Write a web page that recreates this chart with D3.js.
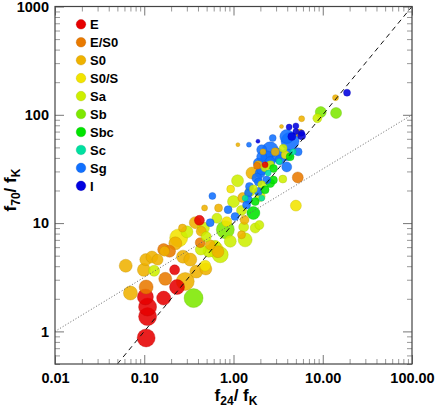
<!DOCTYPE html>
<html lang="en">
<head>
<meta charset="UTF-8">
<script src="https://cdnjs.cloudflare.com/ajax/libs/d3/7.8.5/d3.min.js"></script>
<style>
  body { margin: 0; background: #fff; }
  text { font-family: "Liberation Sans", Arial, sans-serif; font-weight: bold; fill: #000; }
</style>
</head>
<body>
<svg></svg>
<script>
// morphological types and their colours
var types = ["E","E/S0","S0","S0/S","Sa","Sb","Sbc","Sc","Sg","I"];
var typeColors = ["#e60000","#e97a00","#efb200","#f2e400","#cdef00","#7de800","#00e400","#00e0a0","#1070ff","#0000e0"];

// galaxies: f24/fK, f70/fK, symbol size, type index
var f24 = [0.105,0.109,0.109,0.103,0.165,0.233,0.219,0.105,0.172,0.070,
  0.062,0.357,0.099,0.129,0.104,0.122,0.141,0.165,0.169,0.192,
  0.223,0.243,0.272,0.328,0.288,0.383,0.482,0.301,0.268,0.373,
  0.415,0.548,0.474,0.435,0.424,0.43,0.53,0.548,0.495,0.624,
  0.652,1.12,1.49,1.88,0.58,0.93,1.11,1.0,1.27,1.35,
  1.47,1.54,1.61,1.83,1.51,1.99,2.07,1.67,1.04,0.87,
  1.23,1.33,1.30,1.23,1.35,1.95,2.58,3.57,5.25,5.0,
  0.81,0.84,0.62,0.71,0.92,0.49,5.8,8.7,9.5,14.1,
  13.9,18.7,3.45,4.2,5.0,5.5,4.3,4.5,5.8,2.75,
  2.58,3.05,2.93,2.35,2.07,2.14,3.8,4.67,5.3,3.6,
  3.33,2.58,3.25,2.26,1.9,2.26,2.8,1.9,1.47,3.95,
  3.96,5.0,5.8,3.96,1.9,2.58,2.8,2.07,1.83,2.35,
  2.07,2.45,4.31,1.9,2.26,1.99,1.75,1.4,0.68,0.46,
  1.75,0.67,2.07,1.67];
var f70 = [0.87,1.37,1.68,2.08,2.03,2.57,3.7,2.57,3.06,2.26,
  4.04,2.03,3.7,3.63,4.6,4.86,4.6,5.7,5.5,5.5,
  6.5,7.3,4.9,4.6,2.89,3.57,4.04,8.3,9.0,10.1,
  10.6,10.1,13.8,8.4,6.6,5.7,5.5,6.3,7.5,5.7,
  11.1,53,53,57,17.8,20.6,24.6,15.8,17.2,17.0,
  19.0,19.6,29,33.8,21.8,29,17.0,12.4,11.5,13.3,
  13.1,10.7,9.2,7.8,7.0,9.6,23.4,25.5,26.4,14.5,
  8.7,10.3,6.1,5.1,6.8,3.77,92,93,106,104,
  144,160,78,77,79,68,57,63,64,61,
  47.5,42.7,45.5,41,47.5,45.5,42.7,45.5,45.5,49,
  38.4,37,37,34.5,34.5,32.4,25,24,16.4,33,
  63,70,68,42.7,35.8,34.5,32,31,26,25,
  22.6,29,41,19.6,20.3,17.6,15.8,14.7,13.8,9.0,
  9.0,5.45,41,20.7];
var size = [9,9,9,8,7,7.5,5,7,6.5,7,
  6.5,9.5,6.5,5.5,6,6,5.5,6,5,6,
  6.5,9,6.5,6.5,9,6.5,5.5,6,4,6,
  5,4,3,5,5,5.5,6,5,5,8,
  5,2,2.5,2,3.5,4,6,6,5,3,
  4,5,6,3.5,4,5,3,6.5,4,4,
  5,4.5,5,4,7,4.5,4.5,4,5.5,5.5,
  9,5,6,8,6,6,3,4.5,5.5,5.5,
  3,3.5,2,3,3,4,9,4,4,3.5,
  8,7,4,6,5,3,4,3,4,4,
  5,5,3,3,4,4,4,4,4,5,
  7,3,3,6,5,4,4,5,5,4,
  4,3,4,4,4,5,4,4,4,6,
  5,6,5,4];
var type = [0,0,0,0,0,0,0,1,1,2,
  2,5,2,4,2,2,2,1,2,1,
  2,3,2,2,2,2,3,4,2,2,
  0,8,2,2,1,4,4,2,4,3,
  4,2,8,9,8,3,4,4,2,7,
  8,4,2,1,8,8,7,6,8,8,
  4,2,4,2,4,4,6,4,1,3,
  5,3,4,4,4,2,2,4,5,5,
  2,9,2,9,9,2,8,9,9,8,
  8,8,2,8,8,2,3,7,8,4,
  8,8,7,0,2,4,6,8,8,8,
  8,9,9,8,8,4,6,8,8,8,
  4,7,6,8,6,4,6,8,2,4,
  4,2,8,4];

var xTicks = [0.01,0.1,1,10,100];
var xTickLabels = ["0.01","0.10","1.00","10.00","100.00"];
var yTicks = [1,10,100,1000];
var yTickLabels = ["1","10","100","1000"];

// reference lines: f70 = 10 f24 (dashed), f70 = 10 sqrt(f24) (dotted)
var dashX = [0.05,100], dashY = [0.5,1000];
var dotX = [0.01,100], dotY = [1,100];

var margin = {top: 6.5, right: 24, bottom: 46, left: 55},
    width = 436 - margin.left - margin.right,
    height = 410 - margin.top - margin.bottom;

var svg = d3.select("svg").attr("width", 436).attr("height", 410);
var g = svg.append("g").attr("transform", "translate(" + margin.left + "," + margin.top + ")");

var x = d3.scaleLog().domain([0.01,100]).range([0,width]);
var y = d3.scaleLog().domain([0.5,1000]).range([height,0]);
var r = d3.scaleLinear().domain([0,10]).range([0,10]);
var color = d3.scaleOrdinal().domain(d3.range(types.length)).range(typeColors);

var data = f24.map(function(d,i){ return {x: d, y: f70[i], s: size[i], t: type[i]}; });
data.sort(function(a,b){ return b.s - a.s; });

g.selectAll("circle.pt")
  .data(data)
  .enter().append("circle")
  .attr("class","pt")
  .attr("cx", function(d){ return x(d.x); })
  .attr("cy", function(d){ return y(d.y); })
  .attr("r", function(d){ return r(d.s); })
  .attr("fill", function(d){ return color(d.t); })
  .attr("fill-opacity", 0.88)
  .attr("stroke", function(d){ return d3.color(color(d.t)).darker(0.6); })
  .attr("stroke-opacity", 0.5)
  .attr("stroke-width", 0.7);

var line = d3.line().x(function(d){ return x(d[0]); }).y(function(d){ return y(d[1]); });
g.append("path").datum(d3.zip(dashX, dashY)).attr("d", line)
  .attr("fill","none").attr("stroke","#111").attr("stroke-width",1).attr("stroke-dasharray","5,4");
g.append("path").datum(d3.zip(dotX, dotY)).attr("d", line)
  .attr("fill","none").attr("stroke","#666").attr("stroke-width",1).attr("stroke-dasharray","1,2");

// axes: major and minor ticks on all four sides, pointing inward
var xMinor = x.ticks().filter(function(d){ return xTicks.indexOf(d) < 0; });
var yMinor = y.ticks().filter(function(d){ return yTicks.indexOf(d) < 0; });

function styleAxis(sel, col) {
  sel.select(".domain").remove();
  sel.selectAll("line").attr("stroke", col);
  sel.selectAll("text").style("font-size","14.5px").style("font-family",null);
}

g.append("g").attr("transform","translate(0," + height + ")")
  .call(d3.axisBottom(x).tickValues(xTicks).tickFormat(function(d,i){ return xTickLabels[i]; }).tickSize(-9).tickPadding(9))
  .call(styleAxis, "#777");
g.append("g").attr("transform","translate(0," + height + ")")
  .call(d3.axisBottom(x).tickValues(xMinor).tickFormat("").tickSize(-5)).call(styleAxis, "#999");
g.append("g")
  .call(d3.axisTop(x).tickValues(xTicks).tickFormat("").tickSize(-9)).call(styleAxis, "#777");
g.append("g")
  .call(d3.axisTop(x).tickValues(xMinor).tickFormat("").tickSize(-5)).call(styleAxis, "#999");

g.append("g")
  .call(d3.axisLeft(y).tickValues(yTicks).tickFormat(function(d,i){ return yTickLabels[i]; }).tickSize(-9).tickPadding(6))
  .call(styleAxis, "#777");
g.append("g")
  .call(d3.axisLeft(y).tickValues(yMinor).tickFormat("").tickSize(-5)).call(styleAxis, "#999");
g.append("g").attr("transform","translate(" + width + ",0)")
  .call(d3.axisRight(y).tickValues(yTicks).tickFormat("").tickSize(-9)).call(styleAxis, "#777");
g.append("g").attr("transform","translate(" + width + ",0)")
  .call(d3.axisRight(y).tickValues(yMinor).tickFormat("").tickSize(-5)).call(styleAxis, "#999");

g.append("rect").attr("width", width).attr("height", height)
  .attr("fill","none").attr("stroke","#444").attr("stroke-width",1.2);

// legend
var leg = g.selectAll("g.leg").data(types).enter().append("g")
  .attr("class","leg")
  .attr("transform", function(d,i){ return "translate(26," + (17.8 + i*17.95) + ")"; });
leg.append("circle").attr("r",4.8)
  .attr("fill", function(d,i){ return color(i); })
  .attr("stroke", function(d,i){ return d3.color(color(i)).darker(0.6); })
  .attr("stroke-opacity",0.5).attr("stroke-width",0.7);
leg.append("text").attr("x",9).attr("dy","0.36em").style("font-size","13px").text(function(d){ return d; });

// axis titles
var xt = svg.append("text").attr("x", 236).attr("y", 401).attr("text-anchor","middle").style("font-size","17px");
xt.append("tspan").text("f");
xt.append("tspan").attr("dy",4).style("font-size","12px").text("24");
xt.append("tspan").attr("dy",-4).text("/ f");
xt.append("tspan").attr("dy",4).style("font-size","12px").text("K");

var yt = svg.append("text").attr("transform","translate(16,190) rotate(-90)").attr("text-anchor","middle").style("font-size","17px");
yt.append("tspan").text("f");
yt.append("tspan").attr("dy",4).style("font-size","12px").text("70");
yt.append("tspan").attr("dy",-4).text("/ f");
yt.append("tspan").attr("dy",4).style("font-size","12px").text("K");
</script>
</body>
</html>
